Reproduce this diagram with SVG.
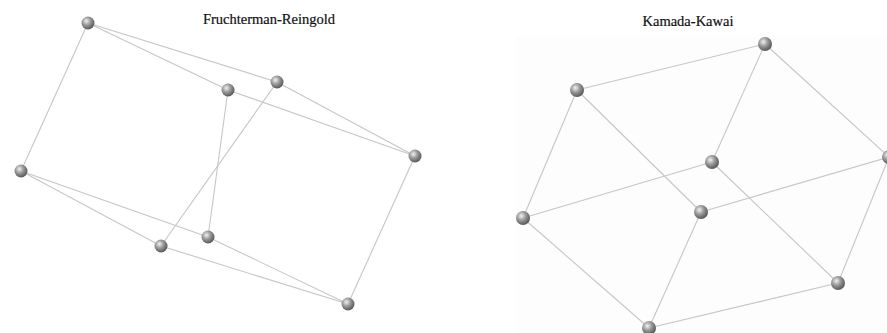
<svg xmlns="http://www.w3.org/2000/svg" width="887" height="333" viewBox="0 0 887 333">
<defs>
<radialGradient id="ball" cx="0.38" cy="0.35" r="0.7">
<stop offset="0" stop-color="#f2f2f2"/>
<stop offset="0.45" stop-color="#9a9a9a"/>
<stop offset="1" stop-color="#505050"/>
</radialGradient>
<style>
.e{stroke:#c6c6c6;stroke-width:1.1;fill:none}
.n{fill:url(#ball)}
.t{font-family:"Liberation Serif","Times New Roman",serif;font-size:14.5px;fill:#111;stroke:#111;stroke-width:0.2;text-anchor:middle}
</style>
</defs>
<rect width="887" height="333" fill="#ffffff"/>
<rect x="516" y="37" width="371" height="296" fill="#fdfdfd"/>
<text class="t" x="269" y="24">Fruchterman-Reingold</text>
<text class="t" x="688" y="26">Kamada-Kawai</text>
<g id="connectors">
<line class="e" x1="88" y1="23" x2="21" y2="171"/>
<line class="e" x1="88" y1="23" x2="228" y2="90"/>
<line class="e" x1="88" y1="23" x2="277" y2="82"/>
<line class="e" x1="228" y1="90" x2="415" y2="156"/>
<line class="e" x1="277" y1="82" x2="415" y2="156"/>
<line class="e" x1="228" y1="90" x2="208" y2="237"/>
<line class="e" x1="277" y1="82" x2="161" y2="246"/>
<line class="e" x1="21" y1="171" x2="208" y2="237"/>
<line class="e" x1="21" y1="171" x2="161" y2="246"/>
<line class="e" x1="161" y1="246" x2="348" y2="304"/>
<line class="e" x1="208" y1="237" x2="348" y2="304"/>
<line class="e" x1="415" y1="156" x2="348" y2="304"/>
<line class="e" x1="765" y1="44" x2="577" y2="90"/>
<line class="e" x1="765" y1="44" x2="712" y2="162"/>
<line class="e" x1="765" y1="44" x2="889" y2="157"/>
<line class="e" x1="577" y1="90" x2="523" y2="218"/>
<line class="e" x1="577" y1="90" x2="701" y2="212"/>
<line class="e" x1="712" y1="162" x2="523" y2="218"/>
<line class="e" x1="712" y1="162" x2="838" y2="283"/>
<line class="e" x1="889" y1="157" x2="701" y2="212"/>
<line class="e" x1="889" y1="157" x2="838" y2="283"/>
<line class="e" x1="523" y1="218" x2="649" y2="328"/>
<line class="e" x1="701" y1="212" x2="649" y2="328"/>
<line class="e" x1="838" y1="283" x2="649" y2="328"/>
</g>
<g id="fr-n1"><circle class="n" cx="88" cy="23" r="6.5"/></g>
<g id="fr-n2"><circle class="n" cx="228" cy="90" r="6.5"/></g>
<g id="fr-n3"><circle class="n" cx="277" cy="82" r="6.5"/></g>
<g id="fr-n4"><circle class="n" cx="415" cy="156" r="6.5"/></g>
<g id="fr-n5"><circle class="n" cx="21" cy="171" r="6.5"/></g>
<g id="fr-n6"><circle class="n" cx="208" cy="237" r="6.5"/></g>
<g id="fr-n7"><circle class="n" cx="161" cy="246" r="6.5"/></g>
<g id="fr-n8"><circle class="n" cx="348" cy="304" r="6.5"/></g>
<g id="kk-n1"><circle class="n" cx="765" cy="44" r="7"/></g>
<g id="kk-n2"><circle class="n" cx="577" cy="90" r="7"/></g>
<g id="kk-n3"><circle class="n" cx="712" cy="162" r="7"/></g>
<g id="kk-n4"><circle class="n" cx="889" cy="157" r="7"/></g>
<g id="kk-n5"><circle class="n" cx="523" cy="218" r="7"/></g>
<g id="kk-n6"><circle class="n" cx="701" cy="212" r="7"/></g>
<g id="kk-n7"><circle class="n" cx="838" cy="283" r="7"/></g>
<g id="kk-n8"><circle class="n" cx="649" cy="328" r="7"/></g>
</svg>
